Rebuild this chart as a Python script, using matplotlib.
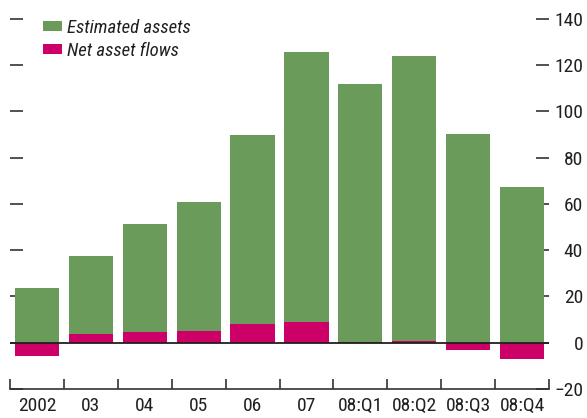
import matplotlib
matplotlib.use("Agg")
import matplotlib.pyplot as plt
from matplotlib.patches import Patch
from matplotlib import font_manager
import numpy as np

categories = ["2002", "03", "04", "05", "06", "07", "08:Q1", "08:Q2", "08:Q3", "08:Q4"]
estimated_assets = [23.7, 37.4, 51.2, 60.6, 89.9, 125.6, 111.8, 123.9, 90.3, 67.1]
net_asset_flows = [-5.9, 3.6, 4.7, 5.2, 7.9, 9.0, 0.3, 0.9, -3.0, -6.9]
y_ticks = [-20, 0, 20, 40, 60, 80, 100, 120, 140]

names = {f.name for f in font_manager.fontManager.ttflist}
fam = "DejaVu Sans"
for cand in ["Liberation Sans Narrow", "Roboto Condensed", "Liberation Sans", "Roboto"]:
    if cand in names:
        fam = cand
        break
plt.rcParams["font.family"] = [fam, "DejaVu Sans"]

W, H = 587, 418
fig = plt.figure(figsize=(W / 100, H / 100), dpi=100)
left, right, bottom_px, top_px = 10, 549, 389, 18.7
ax = fig.add_axes([left / W, (H - bottom_px) / H, (right - left) / W, (bottom_px - top_px) / H])

green = "#6b9b5a"
magenta = "#cc0066"
x = np.arange(len(categories))
ax.bar(x, estimated_assets, width=0.82, color=green, zorder=2)
ax.bar(x, net_asset_flows, width=0.82, color=magenta, zorder=3)
ax.axhline(0, color="#231f20", lw=1.3, zorder=4)

ax.set_xlim(-0.5, len(categories) - 0.5)
ax.set_ylim(-20, 140)

for s in ["top", "left", "right"]:
    ax.spines[s].set_visible(False)
ax.spines["bottom"].set_color("#333333")
ax.spines["bottom"].set_linewidth(1.2)

fs = 14
ax.set_xticks(x)
ax.set_xticklabels(categories)
ax.set_xticks(np.arange(-0.5, len(categories), 1.0), minor=True)
ax.tick_params(axis="x", which="major", length=0, pad=5.5, labelsize=fs, labelcolor="#231f20")
ax.tick_params(axis="x", which="minor", direction="in", length=7.5, width=1.2, color="#333333")

ax.set_yticks(y_ticks)
ax.set_yticklabels([("\u2212" + str(-v)) if v < 0 else str(v) for v in y_ticks])
ax.tick_params(axis="y", which="both", direction="in", length=9.5, width=1.2, color="#333333",
               left=True, right=True, labelleft=False, labelright=True,
               labelsize=fs, labelcolor="#231f20", pad=24.5)
for lab in ax.get_yticklabels():
    lab.set_horizontalalignment("right")

handles = [Patch(facecolor=green, label="Estimated assets"),
           Patch(facecolor=magenta, label="Net asset flows")]
leg = ax.legend(handles=handles, loc="upper left", bbox_to_anchor=(0.03, 1.045),
                frameon=False, handlelength=1.0, handleheight=0.42, handletextpad=0.3,
                labelspacing=0.25, prop={"style": "italic", "size": 13.5})
for t in leg.get_texts():
    t.set_color("#231f20")

fig.savefig("out.png", dpi=100)
